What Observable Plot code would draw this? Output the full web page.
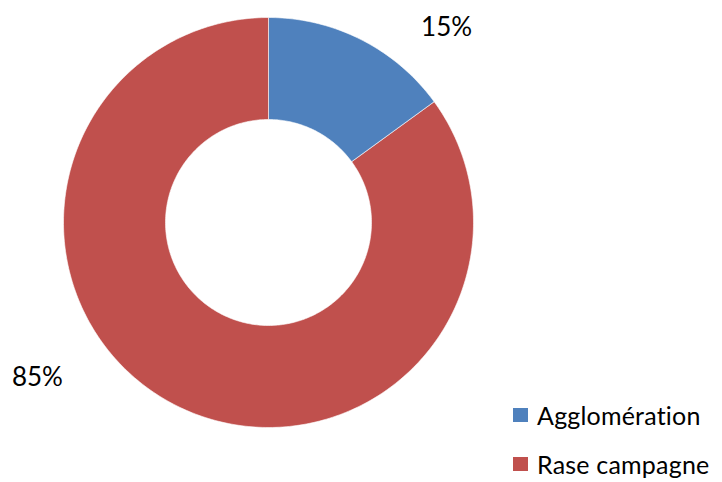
<!DOCTYPE html>
<html>
<head>
<meta charset="utf-8">
<script src="https://cdn.jsdelivr.net/npm/d3@7"></script>
<script src="https://cdn.jsdelivr.net/npm/@observablehq/plot@0.6"></script>
<style>
  html, body { margin: 0; padding: 0; background: #fff; }
  #wrap { position: relative; width: 722px; height: 482px; font-family: Lato, "Open Sans", sans-serif; }
  #legend { position: absolute; left: 513px; top: 402px; }
  .item { display: flex; align-items: center; height: 26px; margin-bottom: 23px; font-size: 25px; letter-spacing: 0.2px; color: #000; }
  .sw { width: 15px; height: 14px; margin-right: 9px; }
</style>
</head>
<body>
<div id="wrap"></div>
<script>
const categories = ["Agglomération", "Rase campagne"];
const values = [15, 85];
const labels = ["15%", "85%"];
const colors = ["#4F81BD", "#C0504D"];

const W = 722, H = 482, cx = 268, cy = 222, R = 205, r0 = 103;
const inner = r0 / R;

const arcs = d3.pie().sort(null).value(d => d.value)(
  categories.map((c, i) => ({category: c, value: values[i], label: labels[i]}))
);

// polygon points for each slice (unit radius coordinates, angle clockwise from top)
const pts = [];
for (const a of arcs) {
  const n = Math.max(8, Math.ceil((a.endAngle - a.startAngle) * 60));
  const ring = [];
  for (let k = 0; k <= n; k++) {
    const t = a.startAngle + (a.endAngle - a.startAngle) * k / n;
    ring.push([Math.sin(t), Math.cos(t)]);
  }
  for (let k = n; k >= 0; k--) {
    const t = a.startAngle + (a.endAngle - a.startAngle) * k / n;
    ring.push([inner * Math.sin(t), inner * Math.cos(t)]);
  }
  ring.forEach(([x, y]) => pts.push({category: a.data.category, x, y}));
}

const mid = arcs.map(a => {
  const t = (a.startAngle + a.endAngle) / 2;
  return {label: a.data.label, x: Math.sin(t), y: Math.cos(t)};
});

const chart = Plot.plot({
  width: W, height: H,
  margin: 0,
  x: {domain: [-cx / R, (W - cx) / R], axis: null},
  y: {domain: [-(H - cy) / R, cy / R], axis: null},
  color: {domain: categories, range: colors},
  style: {fontFamily: "Lato, 'Open Sans', sans-serif", background: "#fff"},
  marks: [
    Plot.line(pts, {x: "x", y: "y", z: "category", fill: "category", stroke: "#ffffff", strokeWidth: 0.6, curve: "linear-closed"}),
    Plot.text([mid[0]], {x: "x", y: "y", text: "label", dx: 85, dy: -12, fontSize: 26, fill: "#000"}),
    Plot.text([mid[1]], {x: "x", y: "y", text: "label", dx: -138, dy: -27, fontSize: 26, fill: "#000"})
  ]
});

const wrap = document.getElementById("wrap");
wrap.appendChild(chart);
const legend = document.createElement("div");
legend.id = "legend";
categories.forEach((c, i) => {
  const it = document.createElement("div");
  it.className = "item";
  const sw = document.createElement("div");
  sw.className = "sw";
  sw.style.background = colors[i];
  const tx = document.createElement("span");
  tx.textContent = c;
  it.appendChild(sw); it.appendChild(tx);
  legend.appendChild(it);
});
wrap.appendChild(legend);
</script>
</body>
</html>
